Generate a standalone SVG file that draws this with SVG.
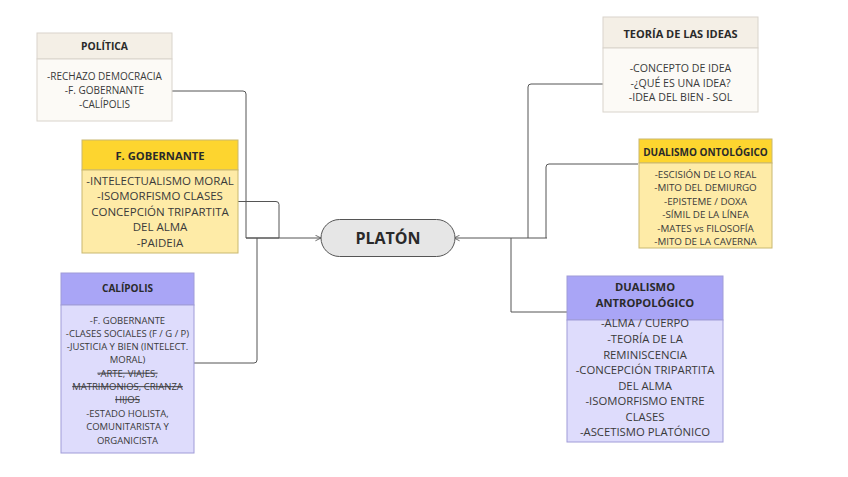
<svg xmlns="http://www.w3.org/2000/svg" width="848" height="477" viewBox="0 0 848 477">
<defs>
<marker id="arr" viewBox="0 0 10 10" refX="9" refY="5" markerWidth="7" markerHeight="7" orient="auto-start-reverse" markerUnits="userSpaceOnUse">
<path d="M1,1 L9,5 L1,9" fill="none" stroke="#555" stroke-width="1.2"/>
</marker>
<style>
text{font-family:"Open Sans","Liberation Sans",sans-serif;fill:#3a3a3a;text-anchor:middle}
.t{font-weight:bold;fill:#2a2a2a}
.c{fill:none;stroke:#555;stroke-width:1}
.beigeH{fill:#f4efe6;stroke:#d9d4cc}
.beigeB{fill:#fcfaf6;stroke:#d9d4cc}
.yelH{fill:#fdd52f;stroke:#c9b870}
.yelB{fill:#feeba7;stroke:#c9b870}
.purH{fill:#a9a5f6;stroke:#a09cd8}
.purB{fill:#dedcfc;stroke:#a09cd8}
.s{text-decoration:line-through}
</style>
</defs>
<rect width="848" height="477" fill="#ffffff"/>
<g id="connectors">
<path class="c" d="M172,91 H243 Q246,91 246,94 V238 H279"/>
<path class="c" d="M238,201.5 H276 Q279,201.5 279,204.5 V238"/>
<path class="c" d="M194,363 H254 Q257,363 257,360 V238"/>
<path class="c" d="M246,238 H321" marker-end="url(#arr)"/>
<path class="c" d="M547,238 H454" marker-end="url(#arr)"/>
<path class="c" d="M528,238 V87 Q528,84 531,84 H603"/>
<path class="c" d="M546,238 V167 Q546,164 549,164 H638"/>
<path class="c" d="M511,238 V312 H567"/>
</g>
<g id="platon">
<rect x="321" y="219.5" width="134" height="37" rx="18.5" fill="#e6e6e6" stroke="#555" stroke-width="1"/>
<text x="388" y="244" class="t" font-size="16">PLATÓN</text>
</g>
<g id="politica" font-size="10">
<rect class="beigeH" x="37" y="33" width="135" height="26"/>
<rect class="beigeB" x="37" y="59" width="135" height="62"/>
<text class="t" x="104.5" y="50" font-size="10.3">POLÍTICA</text>
<text x="104.5" y="80">-RECHAZO DEMOCRACIA</text>
<text x="104.5" y="94">-F. GOBERNANTE</text>
<text x="104.5" y="108">-CALÍPOLIS</text>
</g>
<g id="gobernante" font-size="11.5">
<rect class="yelH" x="82" y="140" width="156" height="30"/>
<rect class="yelB" x="82" y="170" width="156" height="83"/>
<text class="t" x="160" y="160" font-size="11.2">F. GOBERNANTE</text>
<text x="160" y="184.5">-INTELECTUALISMO MORAL</text>
<text x="160" y="200">-ISOMORFISMO CLASES</text>
<text x="160" y="215.5">CONCEPCIÓN TRIPARTITA</text>
<text x="160" y="231">DEL ALMA</text>
<text x="160" y="246.5">-PAIDEIA</text>
</g>
<g id="calipolis" font-size="9.5">
<rect class="purH" x="61" y="273" width="133" height="32"/>
<rect class="purB" x="61" y="305" width="133" height="148"/>
<text class="t" x="127.5" y="292" font-size="10">CALÍPOLIS</text>
<text x="127.5" y="323.5">-F. GOBERNANTE</text>
<text x="127.5" y="337">-CLASES SOCIALES (F / G / P)</text>
<text x="127.5" y="350">-JUSTICIA Y BIEN (INTELECT.</text>
<text x="127.5" y="363">MORAL)</text>
<text class="s" x="127.5" y="376.5">-ARTE, VIAJES,</text>
<text class="s" x="127.5" y="390">MATRIMONIOS, CRIANZA</text>
<text class="s" x="127.5" y="403">HIJOS</text>
<text x="127.5" y="416.5">-ESTADO HOLISTA,</text>
<text x="127.5" y="430">COMUNITARISTA Y</text>
<text x="127.5" y="443.5">ORGANICISTA</text>
</g>
<g id="teoria" font-size="10.6">
<rect class="beigeH" x="603" y="17" width="155" height="31"/>
<rect class="beigeB" x="603" y="48" width="155" height="64"/>
<text class="t" x="680.5" y="38" font-size="11">TEORÍA DE LAS IDEAS</text>
<text x="680.5" y="72">-CONCEPTO DE IDEA</text>
<text x="680.5" y="87">-¿QUÉ ES UNA IDEA?</text>
<text x="680.5" y="101">-IDEA DEL BIEN - SOL</text>
</g>
<g id="ontologico" font-size="9.8">
<rect class="yelH" x="639" y="139" width="133" height="24"/>
<rect class="yelB" x="639" y="163" width="133" height="85"/>
<text class="t" x="705.5" y="156" font-size="10">DUALISMO ONTOLÓGICO</text>
<text x="705.5" y="177.5">-ESCISIÓN DE LO REAL</text>
<text x="705.5" y="191">-MITO DEL DEMIURGO</text>
<text x="705.5" y="204.5">-EPISTEME / DOXA</text>
<text x="705.5" y="218">-SÍMIL DE LA LÍNEA</text>
<text x="705.5" y="231.5">-MATES vs FILOSOFÍA</text>
<text x="705.5" y="245">-MITO DE LA CAVERNA</text>
</g>
<g id="antropologico" font-size="11.3">
<rect class="purH" x="567" y="276" width="156" height="44"/>
<rect class="purB" x="567" y="320" width="156" height="122"/>
<text class="t" x="645" y="291" font-size="11.2">DUALISMO</text>
<text class="t" x="645" y="307" font-size="11.2">ANTROPOLÓGICO</text>
<text x="645" y="327">-ALMA / CUERPO</text>
<text x="645" y="343">-TEORÍA DE LA</text>
<text x="645" y="358.5">REMINISCENCIA</text>
<text x="645" y="374">-CONCEPCIÓN TRIPARTITA</text>
<text x="645" y="389.5">DEL ALMA</text>
<text x="645" y="405">-ISOMORFISMO ENTRE</text>
<text x="645" y="420.5">CLASES</text>
<text x="645" y="436">-ASCETISMO PLATÓNICO</text>
</g>
</svg>
